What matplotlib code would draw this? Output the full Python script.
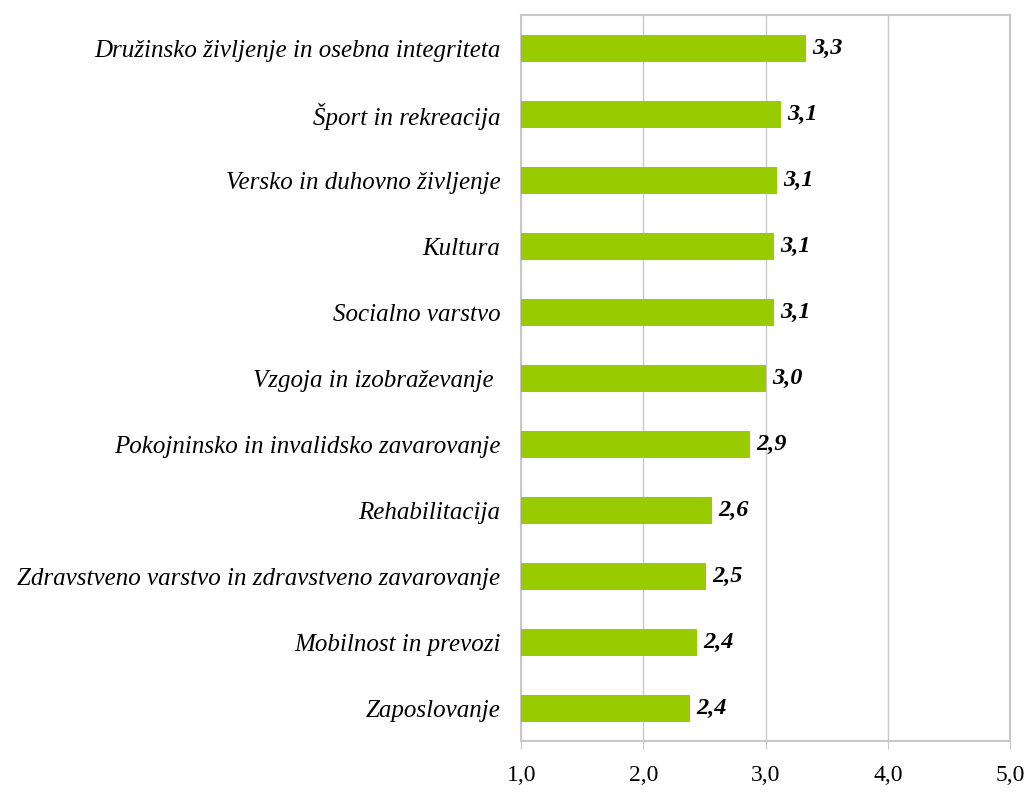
import matplotlib
matplotlib.use("Agg")
import matplotlib.pyplot as plt

categories = [
    "Družinsko življenje in osebna integriteta",
    "Šport in rekreacija",
    "Versko in duhovno življenje",
    "Kultura",
    "Socialno varstvo",
    "Vzgoja in izobraževanje ",
    "Pokojninsko in invalidsko zavarovanje",
    "Rehabilitacija",
    "Zdravstveno varstvo in zdravstveno zavarovanje",
    "Mobilnost in prevozi",
    "Zaposlovanje",
]
values = [3.33, 3.13, 3.09, 3.07, 3.07, 3.00, 2.87, 2.56, 2.51, 2.44, 2.38]
value_labels = ["3,3", "3,1", "3,1", "3,1", "3,1", "3,0", "2,9", "2,6", "2,5", "2,4", "2,4"]
xticks = [1.0, 2.0, 3.0, 4.0, 5.0]

plt.rcParams["font.family"] = ["Liberation Serif", "DejaVu Serif"]

fig = plt.figure(figsize=(10.28, 7.96), dpi=100)
ax = fig.add_axes([0.507, 0.069, 0.4755, 0.912])

pos = list(range(len(categories)))
ax.barh(pos, [v - 1.0 for v in values], left=1.0, height=0.41, color="#99CC00", zorder=3)

for p, v, lab in zip(pos, values, value_labels):
    ax.text(v + 0.05, p, lab, va="center", ha="left",
            fontsize=17.5, fontstyle="italic", fontweight="bold", zorder=4)

ax.set_xlim(1.0, 5.0)
ax.set_ylim(len(categories) - 0.5, -0.5)
ax.set_yticks(pos)
ax.set_yticklabels(categories, fontsize=18, fontstyle="italic")
ax.set_xticks(xticks)
ax.set_xticklabels([f"{t:.1f}".replace(".", ",") for t in xticks], fontsize=17)

ax.xaxis.grid(True, color="#C8C8C8", linewidth=1, zorder=0)
ax.tick_params(axis="y", length=0, pad=15)
ax.tick_params(axis="x", length=6, color="#C8C8C8", pad=11, direction="out")
for s in ax.spines.values():
    s.set_color("#C8C8C8")
    s.set_linewidth(1.5)

fig.savefig("out.png", dpi=100)
